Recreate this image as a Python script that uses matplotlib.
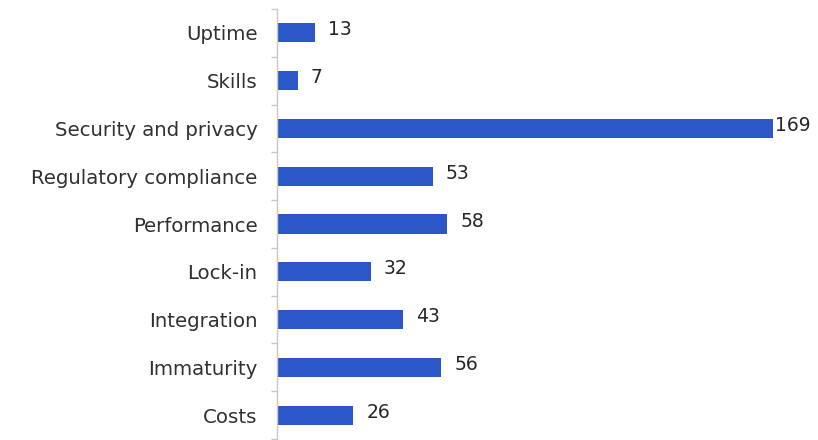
import matplotlib
matplotlib.use("Agg")
import matplotlib.pyplot as plt

categories = ["Uptime", "Skills", "Security and privacy", "Regulatory compliance",
              "Performance", "Lock-in", "Integration", "Immaturity", "Costs"]
values = [13, 7, 169, 53, 58, 32, 43, 56, 26]

plt.rcParams['font.family'] = ['DejaVu Sans']

fig = plt.figure(figsize=(8.18, 4.4), dpi=100)
ax = fig.add_axes([277/818, 1/440, (810-277)/818, 430/440])

ypos = list(range(len(categories)))
ax.barh(ypos, values, height=0.4, color="#2b57c9", edgecolor="none")
ax.set_ylim(len(categories) - 0.5, -0.5)
ax.set_xlim(0, 533/2.935)

ax.set_yticks(ypos)
ax.set_yticklabels(categories, fontsize=14.2, color="#303030")
ax.tick_params(axis='y', which='major', length=0, pad=14)
ax.set_yticks([y - 0.5 for y in ypos] + [len(categories) - 0.5], minor=True)
ax.tick_params(axis='y', which='minor', length=4, color="#c8c8c8", width=1)
ax.set_xticks([])

for s in ["top", "right", "bottom"]:
    ax.spines[s].set_visible(False)
ax.spines["left"].set_color("#c8c8c8")
ax.spines["left"].set_linewidth(1)

vmax = max(values)
for y, v in zip(ypos, values):
    off = 2 if v == vmax else 13
    ax.annotate(str(v), (v, y), xytext=(off, 3), textcoords="offset pixels",
                va="center", ha="left", fontsize=13.5, color="#262626")

fig.savefig("out.png", dpi=100)
